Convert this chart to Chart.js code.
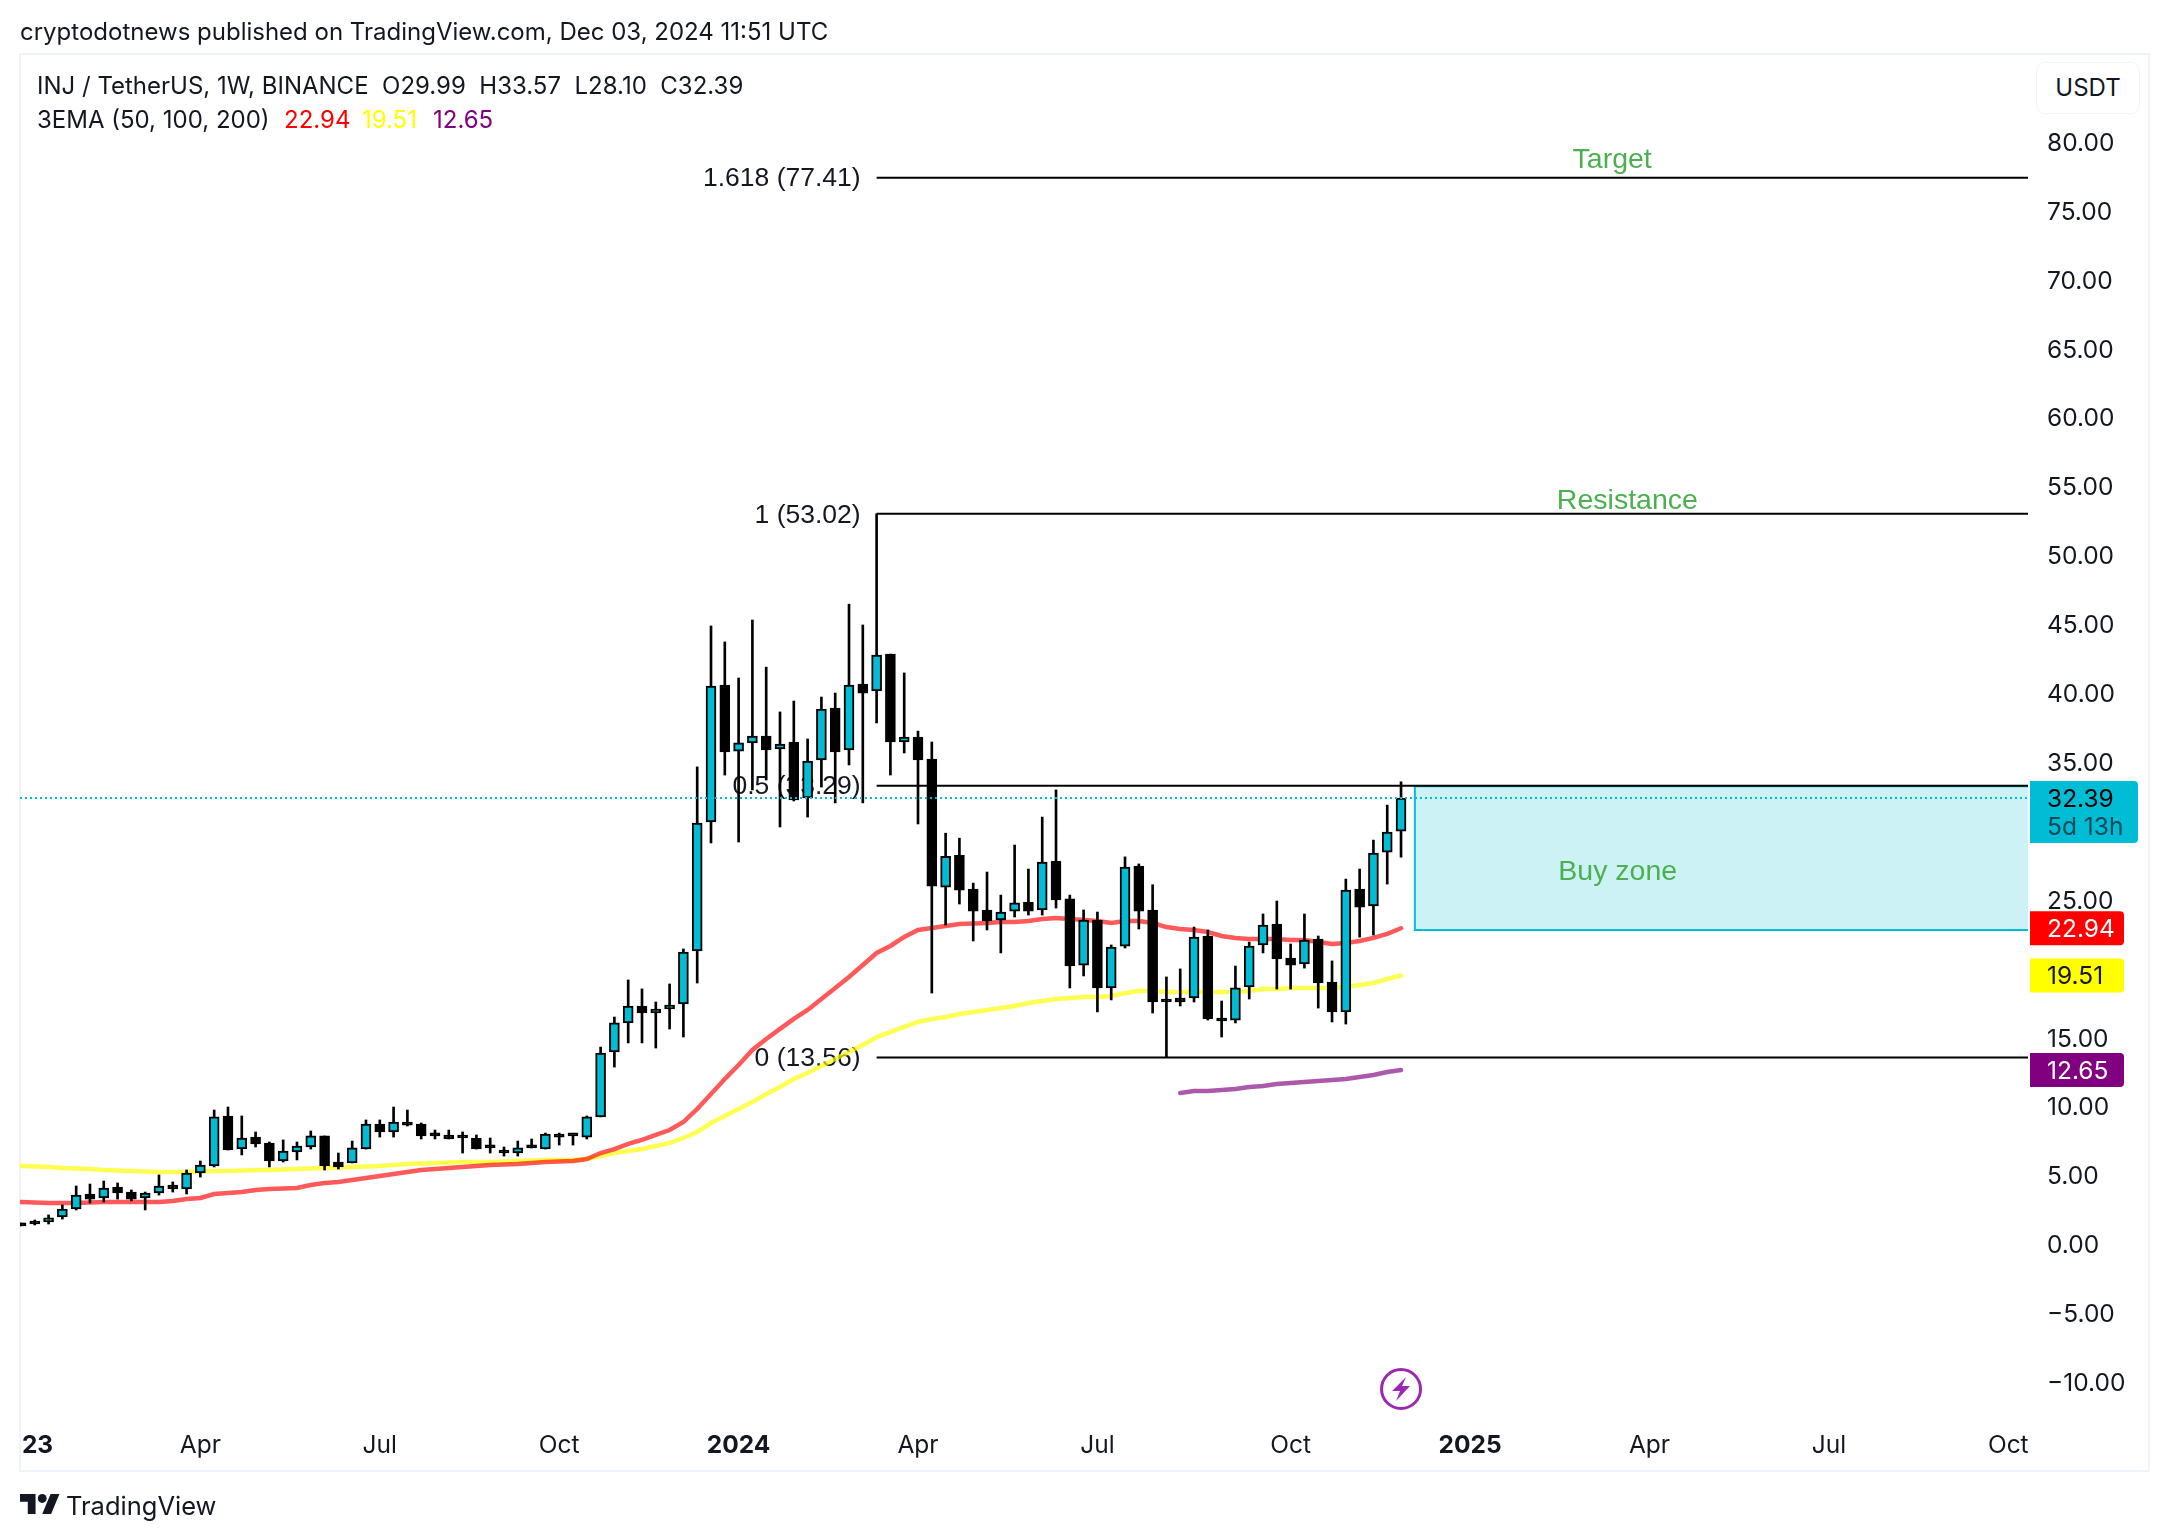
<!DOCTYPE html>
<html>
<head>
<meta charset="utf-8">
<title>INJ / TetherUS</title>
<script src="https://cdn.jsdelivr.net/npm/chart.js@4"></script>
<style>
  html, body { margin: 0; padding: 0; background: #fff; }
  body { width: 2168px; height: 1540px; position: relative; overflow: hidden; font-family: Inter, sans-serif; color: #131722; }
  canvas { position: absolute; left: 0; top: 0; }
  .txt { position: absolute; white-space: pre; font-size: 24px; line-height: 28px; }
  #frame { position: absolute; left: 19px; top: 53px; width: 2127px; height: 1415px; border: 2px solid #f0f3fa; }
  #usdt { position: absolute; left: 2036px; top: 62px; width: 102px; height: 50px; border: 1.5px solid #f0f3fa; border-radius: 9px; text-align: center; line-height: 50px; font-size: 24px; background: #fff; }
  #logo { position: absolute; left: 20px; top: 1494px; }
</style>
</head>
<body>
<div id="frame"></div>
<canvas id="chart" width="2168" height="1540"></canvas>
<div class="txt" style="left:20px;top:18px">cryptodotnews published on TradingView.com, Dec 03, 2024 11:51 UTC</div>
<div class="txt" style="left:37px;top:72px">INJ / TetherUS, 1W, BINANCE  O29.99  H33.57  L28.10  C32.39</div>
<div class="txt" style="left:37px;top:106px">3EMA (50, 100, 200)<span style="position:absolute;left:247px;color:#ff0000">22.94</span><span style="position:absolute;left:325px;color:#ffff00">19.51</span><span style="position:absolute;left:396px;color:#800080">12.65</span></div>
<div id="usdt">USDT</div>
<svg id="logo" width="40" height="20" viewBox="0 4 36 18"><path fill="#131722" d="M14 22H7V11H0V4h14v18zM28 22h-8l7.5-18h8L28 22z"/><circle fill="#131722" cx="20" cy="8" r="4"/></svg>
<div class="txt" style="left:66px;top:1492px;font-size:25.5px">TradingView</div>

<script>
// weekly candles, index 0 is the first week of Jan 2023
const opens = [1.48,1.70,1.63,1.99,2.57,3.66,3.37,4.16,3.80,3.37,3.73,4.31,4.02,5.18,5.69,9.32,6.92,7.79,7.36,6.05,6.71,7.07,7.87,5.98,5.91,6.92,8.74,8.16,8.88,8.74,8.01,7.94,7.79,7.72,7.07,6.85,6.63,7.14,6.92,8.01,7.94,7.79,9.25,13.96,16.07,17.30,16.79,17.08,17.45,21.29,30.65,40.59,35.80,36.39,36.89,35.95,36.46,32.40,35.15,38.92,35.88,40.66,40.16,42.84,36.46,36.82,35.22,25.93,28.24,25.78,24.27,23.54,24.19,24.85,24.27,27.82,25.07,20.27,23.54,18.61,21.65,27.46,24.27,17.74,17.88,17.88,22.38,16.43,16.28,18.68,21.73,23.25,20.78,20.35,22.16,19.04,16.87,25.78,24.56,28.47,29.99];
const highs = [1.55,1.77,2.14,2.86,4.24,4.38,4.60,4.46,3.95,3.80,5.04,4.53,5.40,6.05,9.75,9.97,9.32,8.16,7.43,7.58,7.43,8.23,7.87,6.63,7.50,9.03,9.03,9.97,9.75,8.81,8.30,8.30,8.16,7.94,7.72,7.07,7.50,7.65,8.08,8.08,7.94,9.32,14.32,16.50,19.19,18.54,17.59,18.90,21.44,34.65,44.88,43.72,41.10,45.31,41.89,38.64,39.43,36.68,39.72,40.01,46.46,44.95,53.02,42.84,41.47,37.25,36.46,29.84,29.48,26.22,27.02,25.35,28.98,27.24,31.01,32.98,25.35,24.27,24.12,21.73,28.12,27.61,26.10,19.41,19.99,23.03,22.82,17.66,20.20,21.94,23.98,24.92,21.80,23.98,22.38,20.57,26.51,27.24,29.34,31.88,33.57];
const lows = [1.34,1.41,1.48,1.84,2.50,3.00,3.08,3.29,3.15,2.50,3.58,3.80,3.66,4.89,5.62,6.85,6.49,7.07,5.62,5.98,6.13,6.92,5.40,5.47,5.91,6.92,7.79,7.79,8.59,7.65,7.65,7.65,6.63,6.92,6.63,6.41,6.41,7.00,6.92,7.21,7.21,7.65,9.25,12.87,14.62,14.62,14.25,15.63,15.05,18.97,29.13,34.06,29.20,32.98,33.70,30.29,32.18,31.01,33.19,32.04,34.79,32.04,37.84,34.06,35.66,30.51,18.24,23.17,24.70,22.02,22.82,21.15,23.76,23.90,23.90,24.41,18.61,19.48,16.87,17.74,21.51,22.89,16.79,13.56,17.30,17.59,16.28,15.05,16.07,17.81,21.15,18.53,18.53,20.05,17.15,16.14,15.99,22.30,22.45,26.15,28.10];
const closes = [1.34,1.48,1.92,2.57,3.58,3.29,4.09,3.73,3.29,3.73,4.24,4.02,5.18,5.76,9.25,6.85,7.72,7.29,6.05,6.78,7.14,7.87,5.69,5.62,7.00,8.74,8.16,8.88,8.66,7.87,7.87,7.65,7.72,6.92,7.00,6.63,7.00,7.00,8.01,7.79,7.87,9.25,13.89,16.07,17.30,16.79,17.08,17.37,21.22,30.58,40.52,35.73,36.39,36.89,35.88,36.31,32.25,35.08,38.85,35.73,40.59,40.01,42.77,36.46,36.82,35.15,26.00,28.17,25.71,24.19,23.47,24.12,24.78,24.19,27.75,24.99,20.20,23.54,18.61,21.58,27.39,24.19,17.59,17.59,17.59,22.30,16.36,16.21,18.61,21.65,23.18,20.71,20.27,22.09,18.97,16.87,25.72,24.48,28.40,29.92,32.39];

const ema50 = [3.08,3.04,3.00,3.00,3.00,3.04,3.08,3.08,3.08,3.08,3.08,3.15,3.29,3.37,3.66,3.73,3.80,3.95,4.02,4.06,4.09,4.31,4.46,4.53,4.67,4.82,4.96,5.11,5.25,5.40,5.47,5.54,5.62,5.69,5.76,5.80,5.83,5.91,5.98,6.02,6.05,6.20,6.63,6.92,7.29,7.58,7.94,8.30,8.88,9.83,10.91,12.00,13.02,14.11,14.91,15.64,16.36,17.01,17.81,18.61,19.41,20.28,21.15,21.66,22.31,22.82,22.96,23.11,23.25,23.29,23.32,23.40,23.40,23.47,23.61,23.68,23.61,23.54,23.47,23.32,23.47,23.47,23.32,23.03,22.89,22.82,22.67,22.38,22.24,22.16,22.16,22.16,22.09,22.09,21.94,21.80,21.87,22.02,22.24,22.53,22.94];
const ema100 = [5.69,5.65,5.62,5.54,5.51,5.47,5.40,5.36,5.33,5.29,5.25,5.25,5.25,5.29,5.33,5.33,5.36,5.40,5.40,5.44,5.47,5.51,5.54,5.58,5.62,5.65,5.69,5.76,5.83,5.87,5.91,5.94,5.98,5.98,5.98,6.02,6.05,6.09,6.12,6.12,6.12,6.20,6.42,6.63,6.78,6.92,7.14,7.36,7.72,8.16,8.81,9.32,9.83,10.33,10.91,11.42,12.00,12.44,12.95,13.45,13.96,14.47,15.05,15.41,15.78,16.14,16.36,16.50,16.72,16.87,17.01,17.16,17.30,17.52,17.66,17.81,17.88,17.95,17.95,18.03,18.24,18.39,18.39,18.32,18.32,18.32,18.32,18.32,18.32,18.39,18.53,18.53,18.61,18.61,18.61,18.61,18.68,18.82,18.97,19.26,19.51];
// the 200 EMA only starts at week 84
const ema200Start = 84;
const ema200 = [10.99,11.13,11.13,11.21,11.28,11.42,11.50,11.64,11.71,11.79,11.86,11.93,12.00,12.15,12.29,12.51,12.65];

const fibLevels = [77.41, 53.02, 33.29, 13.56];
const fibLabels = ["1.618 (77.41)", "1 (53.02)", "0.5 (33.29)", "0 (13.56)"];
const fibStart = 62;

const noteTexts = ["Target", "Resistance", "Buy zone"];
const noteWeeks = [115.3, 116.4, 115.7];
const notePrices = [78.84, 54.1, 27.17];

const zoneStart = 101;
const zoneTop = 33.25;
const zoneBottom = 22.82;

const lastPrice = 32.39;
const priceTags = [22.94, 19.51, 12.65];
const tagColors = ["#ff0000", "#ffff00", "#800080"];
const tagInk = ["#ffffff", "#131722", "#ffffff"];

const tickWeeks = [1.2, 13, 26, 39, 52, 65, 78, 92, 105, 118, 131, 144];
const tickLabels = ["23", "Apr", "Jul", "Oct", "2024", "Apr", "Jul", "Oct", "2025", "Apr", "Jul", "Oct"];
const boldTicks = ["23", "2024", "2025"];

const xMin = -0.07, xMax = 145.43;
const FONT = "Inter, sans-serif";
const NOTE_FONT = "'Liberation Sans', sans-serif";

const upCol = "#00bcd4";
const wicks = highs.map((h, i) => ({ x: i, y: [lows[i], h] }));
const bodies = opens.map((o, i) => ({ x: i, y: [o, closes[i]] }));
const bodyCols = opens.map((o, i) => closes[i] >= o ? upCol : "#000000");

function hline(level, from) {
  return { type: "line", data: [{ x: from, y: level }, { x: xMax, y: level }], borderColor: "#000", borderWidth: 2, pointRadius: 0, order: 0 };
}

function emaLine(values, start, color) {
  return { type: "line", data: values.map((v, i) => ({ x: i + start, y: v })), borderColor: color, borderWidth: 4.5, borderCapStyle: "round", pointRadius: 0, order: 4 };
}

function roundTag(ctx, x, y, w, h) {
  ctx.beginPath();
  ctx.roundRect(x, y, w, h, [0, 4, 4, 0]);
  ctx.fill();
}

// things under the candles: buy zone box and the texts
const underlay = {
  id: "underlay",
  beforeDatasetsDraw(chart) {
    const { ctx, scales: { x, y }, chartArea } = chart;
    ctx.save();
    const zx = x.getPixelForValue(zoneStart), zt = y.getPixelForValue(zoneTop), zb = y.getPixelForValue(zoneBottom);
    ctx.fillStyle = "rgba(0,188,212,0.2)";
    ctx.fillRect(zx, zt, chartArea.right - zx, zb - zt);
    ctx.strokeStyle = upCol;
    ctx.lineWidth = 2;
    ctx.beginPath();
    ctx.moveTo(chartArea.right, zt);
    ctx.lineTo(zx, zt);
    ctx.lineTo(zx, zb);
    ctx.lineTo(chartArea.right, zb);
    ctx.stroke();

    ctx.textBaseline = "middle";
    ctx.font = "26.5px " + NOTE_FONT;
    ctx.fillStyle = "#131722";
    ctx.textAlign = "right";
    fibLevels.forEach((lv, i) => {
      ctx.fillText(fibLabels[i], x.getPixelForValue(fibStart) - 16, y.getPixelForValue(lv) + 1.5);
    });
    ctx.font = "28.5px " + NOTE_FONT;
    ctx.fillStyle = "#4caf50";
    ctx.textAlign = "center";
    noteTexts.forEach((t, i) => {
      ctx.fillText(t, x.getPixelForValue(noteWeeks[i]), y.getPixelForValue(notePrices[i]) + 2.5);
    });
    ctx.restore();
  },
  // price tags sit on top of the axis and hide 30.00 and 20.00, same as TradingView
  afterDraw(chart) {
    const { ctx, scales: { x, y }, chartArea } = chart;
    ctx.save();
    const left = chartArea.right + 2;
    const py = y.getPixelForValue(lastPrice);
    ctx.fillStyle = upCol;
    roundTag(ctx, left, py - 17, 108, 62);
    ctx.textBaseline = "middle";
    ctx.textAlign = "left";
    ctx.font = "24.5px " + FONT;
    ctx.fillStyle = "#000";
    ctx.fillText(lastPrice.toFixed(2), 2047, py + 1.5);
    ctx.fillStyle = "#0c4a55";
    ctx.fillText("5d 13h", 2047, py + 29.5);
    priceTags.forEach((p, i) => {
      const ty = y.getPixelForValue(p);
      ctx.fillStyle = tagColors[i];
      roundTag(ctx, left, ty - 17, 94, 34);
      ctx.fillStyle = tagInk[i];
      ctx.fillText(p.toFixed(2), 2047, ty + 1.5);
    });

    // bolt badge under the last candle
    const bx = x.getPixelForValue(100), by = 1389;
    ctx.strokeStyle = "#9c27b0";
    ctx.lineWidth = 3;
    ctx.beginPath();
    ctx.arc(bx, by, 19.5, 0, Math.PI * 2);
    ctx.stroke();
    ctx.fillStyle = "#9c27b0";
    ctx.beginPath();
    ctx.moveTo(bx + 5, by - 12);
    ctx.lineTo(bx - 9, by + 2);
    ctx.lineTo(bx - 1, by + 2);
    ctx.lineTo(bx - 5, by + 12);
    ctx.lineTo(bx + 9, by - 3);
    ctx.lineTo(bx + 1, by - 3);
    ctx.closePath();
    ctx.fill();
    ctx.restore();
  }
};

new Chart(document.getElementById("chart"), {
  type: "bar",
  plugins: [underlay],
  data: {
    datasets: [
      { ...emaLine(ema100, 0, "rgba(255,255,0,0.68)"), order: 5 },
      emaLine(ema50, 0, "rgba(255,0,0,0.65)"),
      emaLine(ema200, ema200Start, "rgba(128,0,128,0.65)"),
      { data: wicks, backgroundColor: "#000", barThickness: 2, grouped: false, order: 3 },
      { data: bodies, backgroundColor: bodyCols, borderColor: "#000", borderWidth: 2, borderSkipped: false, barThickness: 10, minBarLength: 3, grouped: false, order: 2 },
      ...fibLevels.map(lv => hline(lv, fibStart)),
      { type: "line", data: [{ x: xMin, y: lastPrice }, { x: xMax, y: lastPrice }], borderColor: upCol, borderWidth: 2, borderDash: [2, 3], pointRadius: 0, order: 0 }
    ]
  },
  options: {
    responsive: false,
    animation: false,
    devicePixelRatio: 1,
    layout: { padding: { left: 20, top: 55, right: 0, bottom: 70 } },
    plugins: { legend: { display: false }, tooltip: { enabled: false } },
    scales: {
      x: {
        type: "linear",
        min: xMin,
        max: xMax,
        offset: false,
        grid: { display: false, drawTicks: false },
        border: { display: false },
        afterFit(s) { s.height = 50; },
        afterBuildTicks(s) { s.ticks = tickWeeks.map(v => ({ value: v })); },
        ticks: {
          autoSkip: false,
          maxRotation: 0,
          padding: 11,
          color: "#131722",
          font: c => ({ family: FONT, size: 24.5, weight: c.tick && boldTicks.includes(tickLabels[tickWeeks.indexOf(c.tick.value)]) ? "bold" : "normal" }),
          callback: v => tickLabels[tickWeeks.indexOf(v)]
        }
      },
      y: {
        position: "right",
        min: -12.743,
        max: 86.313,
        grid: { display: false, drawTicks: false },
        border: { display: false },
        afterFit(s) { s.width = 140; },
        ticks: {
          stepSize: 5,
          includeBounds: false,
          autoSkip: false,
          padding: 19,
          labelOffset: 1.5,
          color: "#131722",
          font: { family: FONT, size: 24.5 },
          callback: v => (v < 0 ? "\u2212" : "") + Math.abs(v).toFixed(2)
        }
      }
    }
  }
});
</script>
</body>
</html>
